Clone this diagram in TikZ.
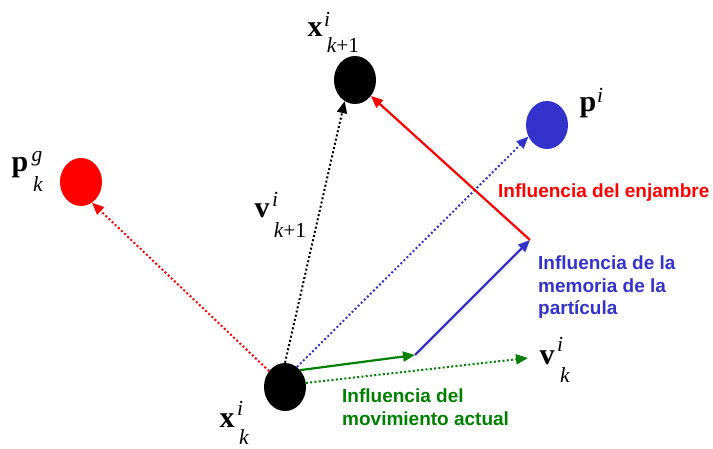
\documentclass[tikz,border=0pt]{standalone}
\usepackage{fontspec}
\setmainfont{Liberation Serif}
\newfontfamily\labelsans{Liberation Sans}
\usetikzlibrary{shapes.geometric,arrows.meta}
\definecolor{myred}{RGB}{255,0,0}
\definecolor{myblue}{RGB}{51,51,204}
\definecolor{mygreen}{RGB}{0,128,0}
\begin{document}
\begin{tikzpicture}[x=1pt,y=-1pt,
 particle/.style={ellipse,minimum width=42pt,minimum height=48pt,inner sep=0pt},
 vec/.style={line width=2.2pt,-{Triangle[length=12pt,width=10pt]}},
 dotvec/.style={line width=2pt,dash pattern=on 2pt off 2.3pt,-{Triangle[length=12pt,width=10pt]}},
 big/.style={anchor=base,inner sep=0pt,font=\fontsize{30}{32}\selectfont\bfseries},
 scr/.style={anchor=base,inner sep=0pt,font=\fontsize{21.5}{23}\selectfont\itshape},
 note/.style={anchor=north west,inner sep=0pt,align=left,font=\labelsans\bfseries\fontsize{19}{22.5}\selectfont}]
\fill[white] (0,0) rectangle (713,449);
\useasboundingbox (0,0) rectangle (713,449);

% particles
\node[particle,fill=black] (xk) at (285,387) {};
\node[particle,fill=black] (xk1) at (355,80) {};
\node[particle,fill=myred] (pg) at (81,182) {};
\node[particle,fill=myblue] (pi) at (547,125) {};
\coordinate (g1) at (415,355);
\coordinate (b1) at (530,240);
\coordinate (vk) at (528,358);

% dotted vectors
\draw[dotvec,mygreen] (xk.11) -- (vk);
\draw[dotvec,myblue] (xk.59) -- (pi.-148);
\draw[dotvec,black] (xk.90) -- (xk1.-116);
\draw[dotvec,myred] (xk.135) -- (pg.-62);

% solid vectors
\draw[vec,mygreen] (xk.48) -- (g1);
\draw[vec,myblue] (g1) -- (b1);
\draw[vec,myred] (b1) -- (xk1.-45);

% math labels
\node[big] (lx1) at (315,37) {x};
\node[scr] (lx1i) at (327,27) {i};
\node[scr] (lx1k) at (343,53) {k\upshape+1};

\node[big] (lx) at (227,427) {x};
\node[scr] (lxi) at (240,415) {i};
\node[scr] (lxk) at (244,444) {k};

\node[big] (lv1) at (262,218) {v};
\node[scr] (lv1i) at (275,207) {i};
\node[scr] (lv1k) at (290,238) {k\upshape+1};

\node[big] (lv) at (547,365) {v};
\node[scr] (lvi) at (560,352) {i};
\node[scr] (lvk) at (565,383) {k};

\node[big] (lpg) at (20,172) {p};
\node[scr] (lpgg) at (37,162) {g};
\node[scr] (lpgk) at (38,192) {k};

\node[big] (lpi) at (588,112) {p};
\node[scr] (lpii) at (600,103) {i};

% text notes
\node[note,myred] (t1) at (498,184) {Influencia del enjambre};
\node[note,myblue] (t2) at (538,256) {Influencia de la\\memoria de la\\partícula};
\node[note,mygreen] (t3) at (342,389) {Influencia del\\movimiento actual};
\end{tikzpicture}
\end{document}
